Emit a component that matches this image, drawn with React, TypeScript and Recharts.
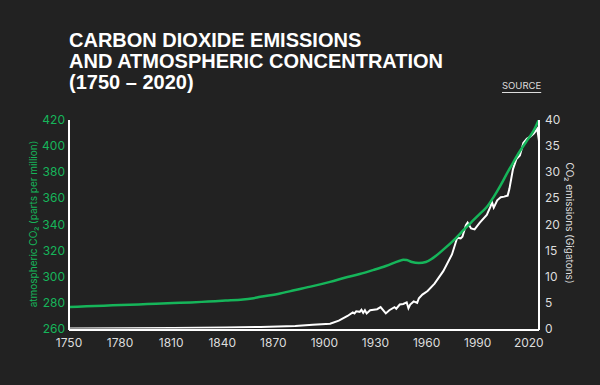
import React from "react";
import { LineChart, Line, XAxis, YAxis } from "recharts";

const co2Years = [1750, 1760, 1770, 1780, 1790, 1800, 1810, 1820, 1830, 1840, 1850, 1855, 1860, 1870, 1880, 1890, 1900, 1910, 1917, 1925, 1932, 1940, 1942, 1944, 1947, 1951, 1955, 1959, 1965, 1972, 1977, 1982, 1986, 1990, 1994, 1998, 2002, 2005, 2009, 2013, 2017, 2020];
const co2Ppm = [276.5, 277, 277.5, 278, 278.5, 279, 279.5, 280, 280.7, 281.4, 282.2, 283, 284.3, 286.5, 289.5, 292.5, 295.8, 299.5, 301.8, 305, 308, 312, 312.8, 312.6, 311, 310.2, 311, 314, 320.5, 329, 336, 342.7, 348, 353.2, 361, 370, 380, 387, 396, 404, 412, 420.5];

const emissionYears = [1750, 1780, 1810, 1840, 1860, 1880, 1890, 1900, 1905, 1910, 1913, 1914, 1915, 1917, 1918, 1919, 1920, 1921, 1923, 1925, 1927, 1929, 1932, 1934, 1937, 1938, 1940, 1942, 1944, 1945, 1946, 1948, 1950, 1951, 1953, 1956, 1960, 1965, 1970, 1973, 1975, 1976, 1978, 1979, 1981, 1983, 1986, 1990, 1992, 1993, 1994, 1996, 1998, 2000, 2002, 2003, 2005, 2007, 2009, 2011, 2013, 2015, 2017, 2019, 2020];
const emissionGt = [0, 0.05, 0.1, 0.2, 0.3, 0.5, 0.7, 0.9, 1.5, 2.4, 3.1, 2.9, 3.3, 3.2, 3.6, 3.0, 3.5, 2.9, 3.5, 3.6, 3.7, 4.1, 2.9, 3.5, 4.1, 3.8, 4.6, 4.7, 5.0, 3.9, 4.6, 5.2, 4.9, 5.8, 6.5, 7.2, 8.6, 11.0, 14.2, 17.4, 17.3, 17.6, 19.8, 20.3, 19.2, 19.0, 20.3, 21.8, 23.3, 24.2, 23.2, 24.6, 25.2, 25.3, 25.5, 26.8, 30.5, 32.5, 33.2, 35.6, 36.4, 36.8, 37.4, 38.3, 36.0];

const yearTicks = [1750, 1780, 1810, 1840, 1870, 1900, 1930, 1960, 1990, 2020];
const ppmTicks = [260, 280, 300, 320, 340, 360, 380, 400, 420];
const gtTicks = [0, 5, 10, 15, 20, 25, 30, 35, 40];

const co2Data = co2Years.map((year, i) => ({ year, ppm: co2Ppm[i] }));
const emissionData = emissionYears.map((year, i) => ({ year, gt: emissionGt[i] }));

const FONT = "Inter, 'Liberation Sans', sans-serif";
const GREEN = "#16b55a";

export default function App() {
  return (
    <div
      style={{
        position: "absolute",
        left: 0,
        top: 0,
        width: 600,
        height: 385,
        background: "#222222",
        overflow: "hidden",
      }}
    >
      <div
        style={{
          position: "absolute",
          left: 69,
          top: 30,
          fontFamily: "'Liberation Sans', Arial, sans-serif",
          fontWeight: 700,
          fontSize: 20,
          lineHeight: "21px",
          color: "#ffffff",
          letterSpacing: 0,
        }}
      >
        CARBON DIOXIDE EMISSIONS
        <br />
        AND ATMOSPHERIC CONCENTRATION
        <br />
        (1750 – 2020)
      </div>
      <div
        style={{
          position: "absolute",
          left: 502,
          top: 80,
          fontFamily: FONT,
          fontSize: 9.5,
          color: "#dddddd",
          textDecoration: "underline",
          textUnderlineOffset: 3,
        }}
      >
        SOURCE
      </div>
      <div
        style={{
          position: "absolute",
          left: 33,
          top: 224,
          transform: "translate(-50%, -50%) rotate(-90deg)",
          whiteSpace: "nowrap",
          fontFamily: FONT,
          fontSize: 10,
          color: GREEN,
        }}
      >
        atmospheric CO₂ (parts per million)
      </div>
      <div
        style={{
          position: "absolute",
          left: 570,
          top: 223,
          transform: "translate(-50%, -50%) rotate(90deg)",
          whiteSpace: "nowrap",
          fontFamily: FONT,
          fontSize: 10,
          color: "#dddddd",
        }}
      >
        CO₂ emissions (Gigatons)
      </div>
      <LineChart
        width={600}
        height={385}
        margin={{ top: 120, right: 0, bottom: 25, left: 0 }}
        style={{ position: "absolute", left: 0, top: 0 }}
      >
        <XAxis
          xAxisId="data"
          dataKey="year"
          type="number"
          orientation="top"
          height={0}
          domain={[1750, 2020]}
          allowDataOverflow
          hide
        />
        <XAxis
          xAxisId="ticks"
          dataKey="year"
          type="number"
          domain={[1750, 2026]}
          allowDataOverflow
          ticks={yearTicks}
          interval={0}
          height={30}
          tickLine={false}
          tickSize={0}
          tickMargin={8}
          axisLine={{ stroke: "#ffffff", strokeWidth: 2 }}
          tick={{ fill: "#dddddd", fontSize: 12, fontFamily: FONT }}
        />
        <YAxis
          yAxisId="ppm"
          orientation="left"
          type="number"
          domain={[260, 420]}
          allowDataOverflow
          ticks={ppmTicks}
          interval={0}
          width={69}
          padding={{ top: 0, bottom: 1.5 }}
          tickLine={false}
          tickSize={0}
          tickMargin={4}
          axisLine={{ stroke: "#ffffff", strokeWidth: 2 }}
          tick={{ fill: GREEN, fontSize: 12, fontFamily: FONT }}
        />
        <YAxis
          yAxisId="gt"
          orientation="right"
          type="number"
          domain={[0, 40]}
          allowDataOverflow
          ticks={gtTicks}
          interval={0}
          width={61}
          padding={{ top: 0, bottom: 1.5 }}
          tickLine={false}
          tickSize={0}
          tickMargin={6}
          axisLine={{ stroke: "#ffffff", strokeWidth: 2 }}
          tick={{ fill: "#dddddd", fontSize: 12, fontFamily: FONT }}
        />
        <Line
          data={emissionData}
          xAxisId="data"
          yAxisId="gt"
          dataKey="gt"
          type="linear"
          stroke="#ffffff"
          strokeWidth={2}
          dot={false}
          isAnimationActive={false}
        />
        <Line
          data={co2Data}
          xAxisId="data"
          yAxisId="ppm"
          dataKey="ppm"
          type="monotone"
          stroke={GREEN}
          strokeWidth={2.5}
          dot={false}
          isAnimationActive={false}
        />
      </LineChart>
    </div>
  );
}
